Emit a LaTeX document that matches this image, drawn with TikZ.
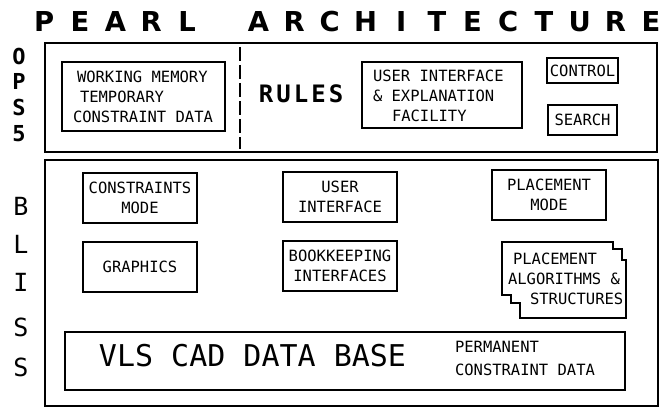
\documentclass[tikz,border=0pt]{standalone}
\usepackage{fontspec}
\newfontfamily\monof{DejaVu Sans Mono}
\newfontfamily\sansf{DejaVu Sans}
\newcommand\tcell[1]{\makebox[35.7pt]{#1}}
\newcommand\rcell[1]{\makebox[17.5pt]{#1}}
\begin{document}
\begin{tikzpicture}[x=1pt,y=-1pt,
  frame/.style={draw, line width=1.7pt, line join=miter},
  box/.style={draw, line width=1.7pt, inner sep=0pt, outer sep=0pt, align=center,
    font=\monof\fontsize{15.5}{20}\selectfont},
  txt/.style={inner sep=0pt, outer sep=0pt, align=left,
    font=\monof\fontsize{15.5}{20}\selectfont},
  side/.style={inner sep=0pt, font=\monof\bfseries\fontsize{22}{22}\selectfont},
  bside/.style={inner sep=0pt, font=\monof\fontsize{25}{25}\selectfont},
]
\useasboundingbox (0,0) rectangle (666,409);
\fill[white] (0,0) rectangle (666,409);

% title
\node[inner sep=0pt, anchor=west, font=\sansf\bfseries\fontsize{27.4}{27.4}\selectfont]
  (title) at (26.15,22)
  {\tcell{P}\tcell{E}\tcell{A}\tcell{R}\tcell{L}\tcell{}\tcell{A}\tcell{R}\tcell{C}\tcell{H}\tcell{I}\tcell{T}\tcell{E}\tcell{C}\tcell{T}\tcell{U}\tcell{R}\tcell{E}};

% OPS5 frame
\node[box, minimum width=612pt, minimum height=109pt] (ops) at (351,97.5) {};
\draw[line width=1.4pt, dash pattern=on 14pt off 4pt] (240,47) -- (240,149);

\node[box, minimum width=163pt, minimum height=69pt] (wm) at (143.5,96.5) {};
\node[txt, anchor=west] (wmtext) at (73,97)
  {\hspace*{4pt}WORKING MEMORY\\\hspace*{7pt}TEMPORARY\\CONSTRAINT DATA};

\node[inner sep=0pt, font=\monof\bfseries\fontsize{24}{25}\selectfont] (rules) at (301,94)
  {\rcell{R}\rcell{U}\rcell{L}\rcell{E}\rcell{S}};

\node[box, minimum width=160pt, minimum height=66pt] (ui) at (442,95) {};
\node[txt, anchor=west] (uitext) at (373,96)
  {USER INTERFACE\\\& EXPLANATION\\\hspace*{19pt}FACILITY};

\node[box, minimum width=71pt, minimum height=25pt] (control) at (582.5,70.5) {CONTROL};
\node[box, minimum width=69pt, minimum height=30pt] (search) at (582.5,120) {SEARCH};

% BLISS frame
\node[box, minimum width=613pt, minimum height=246pt] (bliss) at (351.5,283) {};

\node[box, minimum width=114pt, minimum height=50pt] (cmode) at (140,198) {CONSTRAINTS\\MODE};
\node[box, minimum width=114pt, minimum height=50pt] (uif) at (340,197) {USER\\INTERFACE};
\node[box, minimum width=114pt, minimum height=50pt] (pmode) at (549,195) {PLACEMENT\\MODE};
\node[box, minimum width=114pt, minimum height=50pt] (graphics) at (140,267) {GRAPHICS};
\node[box, minimum width=114pt, minimum height=50pt] (book) at (340,266) {BOOKKEEPING\\INTERFACES};

\draw[frame] (502,242) -- (613,242) -- (613,249) -- (622,249) -- (622,260) -- (626,260)
  -- (626,318) -- (520,318) -- (520,303) -- (511,303) -- (511,295) -- (502,295) -- cycle;
\node[txt, anchor=west] (palg) at (508,279)
  {\hspace*{5pt}PLACEMENT\\ALGORITHMS \&\\\hspace*{22pt}STRUCTURES};

\node[box, minimum width=560pt, minimum height=58pt] (vls) at (345,361) {};
\node[inner sep=0pt, font=\monof\fontsize{30}{30}\selectfont] (vlstext) at (252.5,356) {VLS CAD DATA BASE};
\node[txt, anchor=west, font=\monof\fontsize{15.5}{23}\selectfont] (perm) at (455,358.5)
  {PERMANENT\\CONSTRAINT DATA};

% side labels
\node[side] (s1) at (19,56) {O};
\node[side] (s2) at (19,81) {P};
\node[side] (s3) at (19,107) {S};
\node[side] (s4) at (19,134) {5};

\node[bside] (b1) at (21,206) {B};
\node[bside] (b2) at (21,244) {L};
\node[bside] (b3) at (21,282) {I};
\node[bside] (b4) at (21,327) {S};
\node[bside] (b5) at (21,367) {S};
\end{tikzpicture}
\end{document}
